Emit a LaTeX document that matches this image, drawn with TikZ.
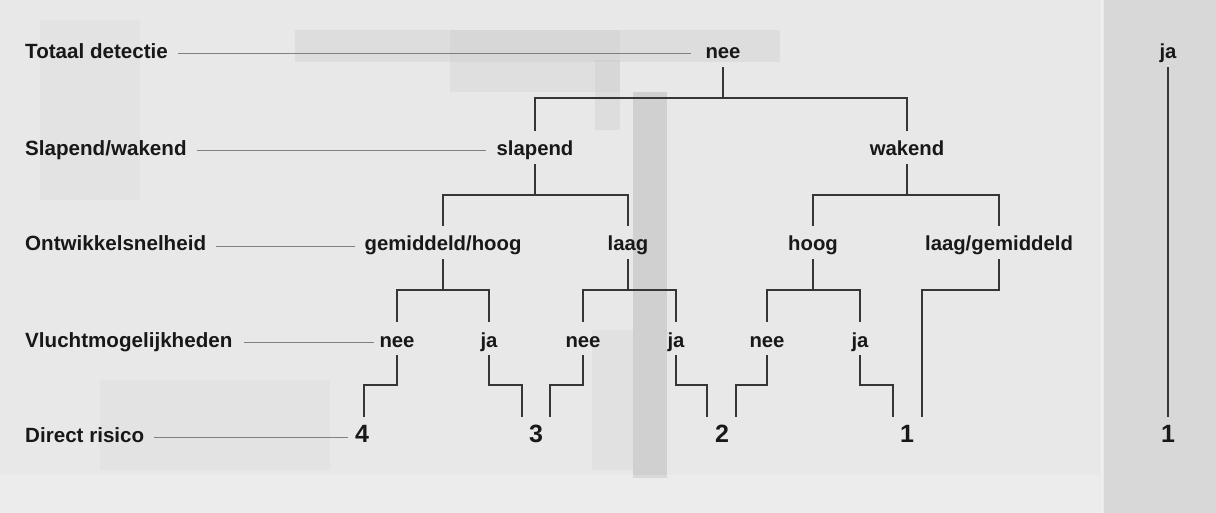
\documentclass[tikz,border=0pt]{standalone}
\usepackage{fontspec}
\setmainfont{Liberation Sans}
\definecolor{bgc}{HTML}{E8E8E8}
\definecolor{bgdark}{HTML}{D8D8D8}
\definecolor{band}{HTML}{C6C6C6}
\definecolor{ink}{HTML}{181818}
\definecolor{treec}{HTML}{363636}
\definecolor{guidec}{HTML}{808080}
\begin{document}
\begin{tikzpicture}[x=1pt,y=-1pt,
  lab/.style={font=\bfseries\fontsize{20.6}{22}\selectfont, text=ink, inner sep=0pt, anchor=base west},
  opt/.style={font=\bfseries\fontsize{20.3}{22}\selectfont, text=ink, inner sep=0pt, anchor=base, text height=25pt, text depth=8pt},
  num/.style={font=\bfseries\fontsize{25}{26}\selectfont, text=ink, inner sep=0pt, anchor=base},
  tree/.style={draw=treec, line width=1.5pt},
  guide/.style={draw=guidec, line width=0.8pt}]
% background
\fill[bgc] (0,0) rectangle (1216,513);
\useasboundingbox (0,0) rectangle (1216,513);
\fill[bgdark] (1102,0) rectangle (1216,513);
\fill[white, opacity=0.5] (1101,0) rectangle (1104,513);
\fill[band, opacity=0.3] (295,30) rectangle (780,62);
\fill[band, opacity=0.25] (450,30) rectangle (620,92);
\fill[band, opacity=0.3] (595,60) rectangle (620,130);
\fill[band, opacity=0.7] (633,92) rectangle (667,478);
\fill[band, opacity=0.2] (592,330) rectangle (633,470);
\fill[bgdark, opacity=0.3] (40,20) rectangle (140,200);
\fill[bgdark, opacity=0.25] (100,380) rectangle (330,470);
\fill[white, opacity=0.2] (0,475) rectangle (1100,513);

% row labels
\node[lab] (l1) at (25,59) {Totaal detectie};
\node[lab] (l2) at (25,156) {Slapend/wakend};
\node[lab] (l3) at (25,251) {Ontwikkelsnelheid};
\node[lab] (l4) at (25,347) {Vluchtmogelijkheden};
\node[lab] (l5) at (25,442) {Direct risico};

% tree nodes
\node[opt] (t0) at (723,59) {nee};
\node[opt] (ja0) at (1168,59) {ja};
\node[opt] (sl) at (535,156) {slapend};
\node[opt] (wa) at (907,156) {wakend};
\node[opt] (gh) at (443,251) {gemiddeld/hoog};
\node[opt] (la) at (628,251) {laag};
\node[opt] (ho) at (813,251) {hoog};
\node[opt] (lg) at (999,251) {laag/gemiddeld};
\node[opt] (v1) at (397,347) {nee};
\node[opt] (v2) at (489,347) {ja};
\node[opt] (v3) at (583,347) {nee};
\node[opt] (v4) at (676,347) {ja};
\node[opt] (v5) at (767,347) {nee};
\node[opt] (v6) at (860,347) {ja};
\node[num] (n4) at (362,442) {4};
\node[num] (n3) at (536,442) {3};
\node[num] (n2) at (722,442) {2};
\node[num] (n1) at (907,442) {1};
\node[num] (n1b) at (1168,442) {1};

% junctions and leaf ends
\coordinate (j0) at (723,98);
\coordinate (j1) at (535,195);
\coordinate (j2) at (907,195);
\coordinate (j3) at (443,290);
\coordinate (j4) at (628,290);
\coordinate (j5) at (813,290);
\coordinate (j6) at (999,290);
\coordinate (e1) at (364,417);
\coordinate (e2) at (522,417);
\coordinate (e3) at (550,417);
\coordinate (e4) at (707,417);
\coordinate (e5) at (736,417);
\coordinate (e6) at (893,417);
\coordinate (e7) at (922,417);
\coordinate (e8) at (1168,417);

% guide lines
\draw[guide] ([xshift=10pt,yshift=6pt]l1.base east) -- ([xshift=-14pt,yshift=6pt]t0.base west);
\draw[guide] ([xshift=10pt,yshift=6pt]l2.base east) -- ([xshift=-10pt,yshift=6pt]sl.base west);
\draw[guide] ([xshift=10pt,yshift=5pt]l3.base east) -- ([xshift=-9pt,yshift=5pt]gh.base west);
\draw[guide] ([xshift=11pt,yshift=5pt]l4.base east) -- ([xshift=-5pt,yshift=5pt]v1.base west);
\draw[guide] ([xshift=10pt,yshift=5pt]l5.base east) -- ([xshift=-7pt,yshift=5pt]n4.base west);

% tree connectors
\draw[tree] (t0.south) -- (j0);
\draw[tree] (sl.north) |- (j0) -| (wa.north);
\draw[tree] (sl.south) -- (j1);
\draw[tree] (gh.north) |- (j1) -| (la.north);
\draw[tree] (wa.south) -- (j2);
\draw[tree] (ho.north) |- (j2) -| (lg.north);
\draw[tree] (gh.south) -- (j3);
\draw[tree] (v1.north) |- (j3) -| (v2.north);
\draw[tree] (la.south) -- (j4);
\draw[tree] (v3.north) |- (j4) -| (v4.north);
\draw[tree] (ho.south) -- (j5);
\draw[tree] (v5.north) |- (j5) -| (v6.north);
\draw[tree] (lg.south) -- (j6) -| (e7);
\draw[tree] (v1.south) -- ++(0,30) -| (e1);
\draw[tree] (v2.south) -- ++(0,30) -| (e2);
\draw[tree] (v3.south) -- ++(0,30) -| (e3);
\draw[tree] (v4.south) -- ++(0,30) -| (e4);
\draw[tree] (v5.south) -- ++(0,30) -| (e5);
\draw[tree] (v6.south) -- ++(0,30) -| (e6);
\draw[tree] (ja0.south) -- (e8);
\end{tikzpicture}
\end{document}
